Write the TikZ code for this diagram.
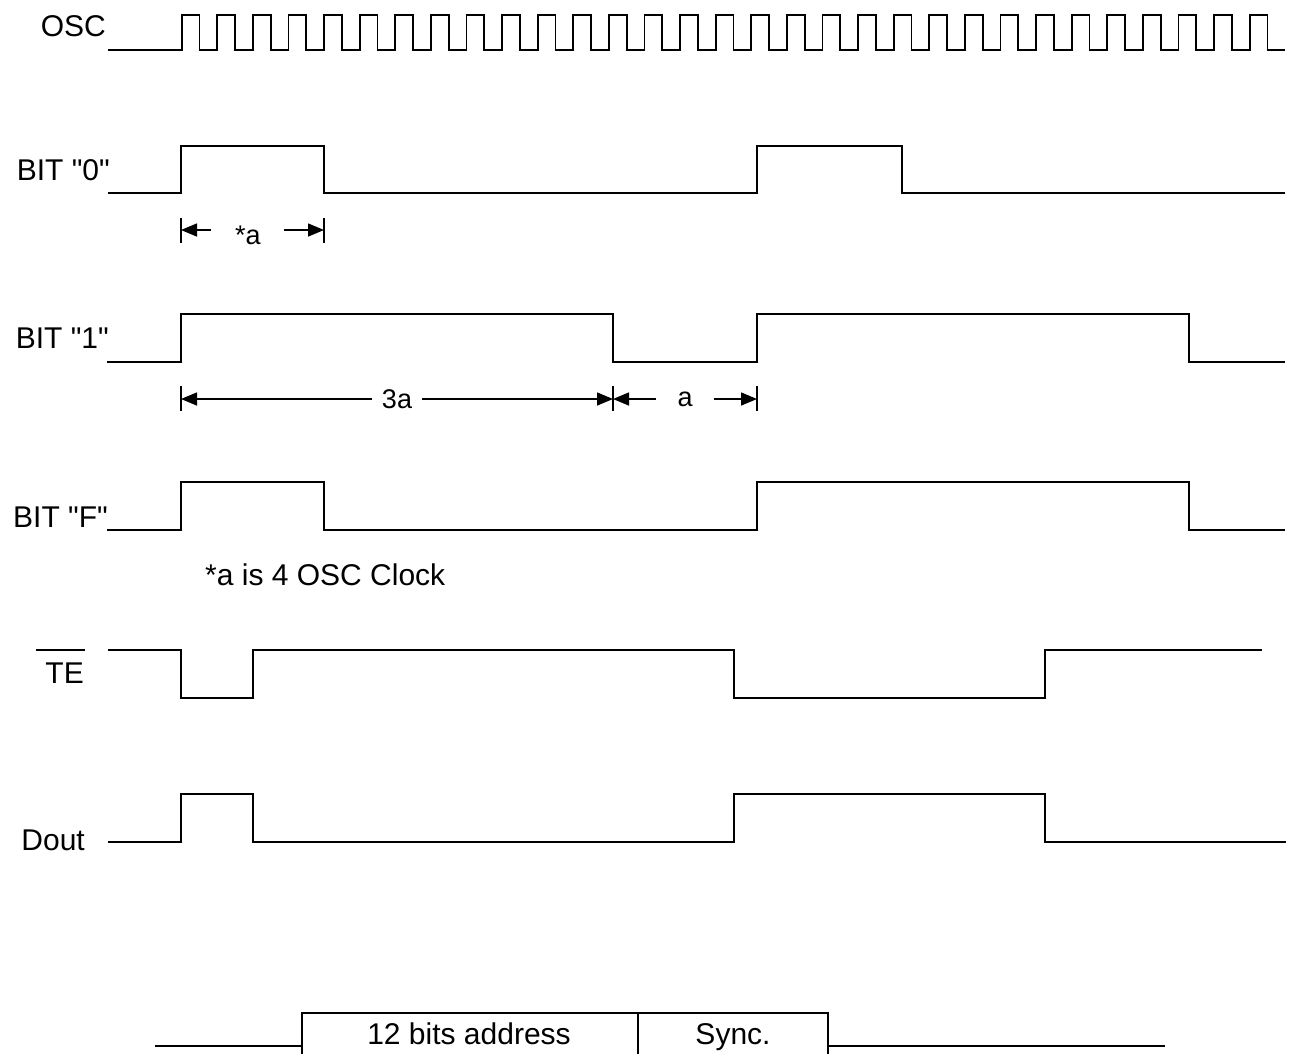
\documentclass[tikz,border=0pt]{standalone}
\usepackage{fontspec}
\setmainfont{Liberation Sans}
\usetikzlibrary{arrows.meta}
\begin{document}
\begin{tikzpicture}[x=1pt,y=-1pt,
  wave/.style={line width=1.7pt,line join=miter},
  lbl/.style={font=\fontsize{30}{36}\selectfont,inner sep=0pt},
  dimlbl/.style={font=\fontsize{27}{32}\selectfont,inner sep=0pt},
  boxlbl/.style={font=\fontsize{30}{36}\selectfont,inner sep=0pt},
  dimarrow/.style={line width=1.5pt,-{Triangle[length=16pt,width=13pt]}},
  tick/.style={line width=1.6pt}]
\useasboundingbox (0,0) rectangle (1292,1053);
\fill[white] (0,0) rectangle (1292,1053);
% ---- labels
\node[lbl,anchor=base east] (losc) at (106,36) {OSC};
\node[lbl,anchor=base east] (lb0) at (110,180) {BIT \textquotedbl0\textquotedbl};
\node[lbl,anchor=base east] (lb1) at (109,348) {BIT \textquotedbl1\textquotedbl};
\node[lbl,anchor=base east] (lbf) at (108,527) {BIT \textquotedbl F\textquotedbl};
\node[lbl,anchor=base east] (lte) at (84,683) {TE};
\draw[line width=1.5pt] (36,650) -- (85,650);
\node[lbl,anchor=base east] (ldout) at (85,850) {Dout};
\node[lbl,anchor=base west] (note) at (205,585) {*a is 4 OSC Clock};
% ---- OSC
\draw[wave] (108,50) -- (181.7,50)
  \foreach \i in {0,...,30}{
    -- ({181.7+35.6*\i},15) -- ({181.7+35.6*\i+17.8},15) -- ({181.7+35.6*\i+17.8},50)
    -- ({min(181.7+35.6*(\i+1),1285.7)},50)};
% ---- BIT 0
\draw[wave] (108,193) -- (181,193) -- (181,146) -- (324,146) -- (324,193)
  -- (757,193) -- (757,146) -- (902,146) -- (902,193) -- (1285,193);
% ---- BIT 1
\draw[wave] (107,362) -- (181,362) -- (181,314) -- (613,314) -- (613,362)
  -- (757,362) -- (757,314) -- (1189,314) -- (1189,362) -- (1285,362);
% ---- BIT F
\draw[wave] (107,530) -- (181,530) -- (181,482) -- (324,482) -- (324,530)
  -- (757,530) -- (757,482) -- (1189,482) -- (1189,530) -- (1285,530);
% ---- TE
\draw[wave] (108,650) -- (181,650) -- (181,698) -- (253,698) -- (253,650)
  -- (734,650) -- (734,698) -- (1045,698) -- (1045,650) -- (1262,650);
% ---- Dout
\draw[wave] (108,842) -- (181,842) -- (181,794) -- (253,794) -- (253,842)
  -- (734,842) -- (734,794) -- (1045,794) -- (1045,842) -- (1286,842);
% ---- *a dimension
\coordinate (a0) at (181,230);
\coordinate (a1) at (324,230);
\coordinate (a0s) at (211,230);
\coordinate (a1s) at (284,230);
\draw[tick] (181,218) -- (181,243);
\draw[tick] (324,218) -- (324,243);
\node[dimlbl] (sa) at (248,235) {*a};
\draw[dimarrow] (a0s) -- (a0);
\draw[dimarrow] (a1s) -- (a1);
% ---- 3a and a dimensions
\coordinate (b0) at (181,399);
\coordinate (b1) at (613,399);
\coordinate (b2) at (757,399);
\draw[tick] (181,386) -- (181,411);
\draw[tick] (613,386) -- (613,411);
\draw[tick] (757,386) -- (757,411);
\node[dimlbl] (l3a) at (397,399) {3a};
\node[dimlbl] (la) at (685,399) {a};
\coordinate (b0s) at (372,399);
\coordinate (b1s) at (422,399);
\coordinate (b2s) at (656,399);
\coordinate (b3s) at (714,399);
\draw[dimarrow] (b0s) -- (b0);
\draw[dimarrow] (b1s) -- (b1);
\draw[dimarrow] (b2s) -- (b1);
\draw[dimarrow] (b3s) -- (b2);
% ---- frame box
\coordinate (fl) at (155,1046);
\coordinate (fr) at (1165,1046);
\draw[line width=1.5pt] (fl) -- (302,1046);
\draw[line width=1.5pt] (828,1046) -- (fr);
\draw[line width=1.5pt] (302,1060) -- (302,1013) -- (828,1013) -- (828,1060);
\draw[line width=1.5pt] (638,1013) -- (638,1060);
\node[boxlbl,anchor=base] (addr) at (469,1044) {12 bits address};
\node[boxlbl,anchor=base] (sync) at (733,1044) {Sync.};
\end{tikzpicture}
\end{document}
